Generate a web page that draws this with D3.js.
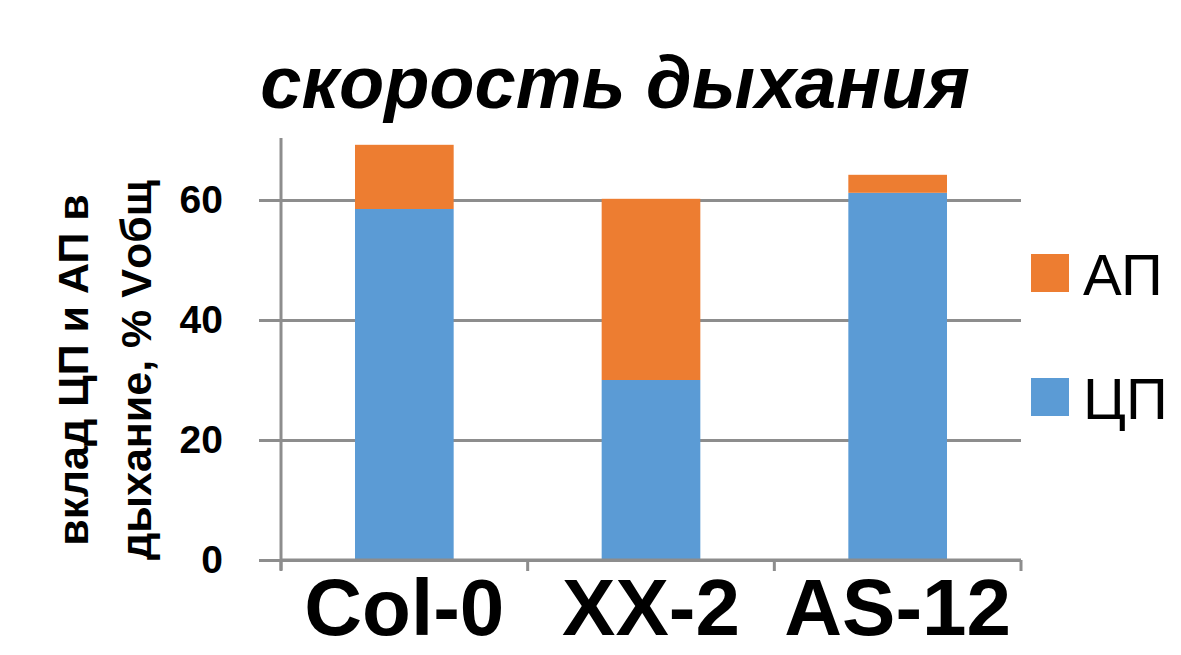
<!DOCTYPE html>
<html lang="ru">
<head>
    <meta charset="UTF-8">
    <title>скорость дыхания</title>
    <style>
        body{
            margin: 0;
            background: #fff;
        }
        text{
            font-family: "Liberation Sans", Arial, sans-serif;
        }
    </style>
</head>
<body>
    <div id="chart"></div>
    <script src="https://cdn.jsdelivr.net/npm/d3@7"></script>
    <script>
        var categories = ["Col-0", "XX-2", "AS-12"];
        var cpValues = [58.5, 30.0, 61.2];   // ЦП
        var apValues = [10.7, 30.2, 3.0];    // АП
        var seriesNames = ["ЦП", "АП"];
        var yTicks = [0, 20, 40, 60];

        var colors = {"ЦП": "#5b9bd5", "АП": "#ed7d31"};
        var gridColor = "#8d8d8d";

        var W = 1181, H = 655;
        var margin = {top: 140, right: 160, bottom: 95, left: 281},
            width = W - margin.left - margin.right,
            height = H - margin.top - margin.bottom;

        var svg = d3.select("#chart").append("svg")
            .attr("width", W)
            .attr("height", H);

        var rows = categories.map(function(c, i){
            return {cat: c, "ЦП": cpValues[i], "АП": apValues[i]};
        });
        var stacked = d3.stack().keys(seriesNames)(rows);

        var x = d3.scaleBand()
            .domain(categories)
            .range([0, width])
            .paddingInner(0.6)
            .paddingOuter(0.3);

        var y = d3.scaleLinear()
            .domain([0, 70])
            .range([height, 0]);

        var g = svg.append("g")
            .attr("transform", "translate(" + margin.left + "," + margin.top + ")");

        // gridlines + tick labels (grid sticks out 22px left of the axis)
        var gridG = g.append("g")
            .attr("transform", "translate(-22,0)")
            .call(d3.axisLeft(y)
                .tickValues(yTicks)
                .tickSize(-(width + 22))
                .tickPadding(36)
                .tickFormat(d3.format("d")));
        gridG.select(".domain").remove();
        gridG.selectAll("line")
            .attr("stroke", gridColor)
            .attr("stroke-width", 3);
        gridG.selectAll("text")
            .attr("fill", "#000")
            .style("font-size", "39px")
            .style("font-weight", "bold");

        // bars
        g.append("g").selectAll(".layer")
            .data(stacked)
            .enter()
            .append("g")
            .attr("fill", function(d){ return colors[d.key]; })
            .selectAll("rect")
            .data(function(d){ return d; })
            .enter()
            .append("rect")
            .attr("x", function(d){ return x(d.data.cat); })
            .attr("y", function(d){ return y(d[1]); })
            .attr("width", x.bandwidth())
            .attr("height", function(d){ return y(d[0]) - y(d[1]); });

        // y axis line
        g.append("line")
            .attr("x1", 0).attr("x2", 0)
            .attr("y1", -2).attr("y2", height + 10)
            .attr("stroke", gridColor)
            .attr("stroke-width", 3);

        // x axis line + boundary ticks
        g.append("line")
            .attr("x1", 0).attr("x2", width)
            .attr("y1", height).attr("y2", height)
            .attr("stroke", gridColor)
            .attr("stroke-width", 3);
        var bounds = categories.map(function(c){ return x(c) - x.step() * x.paddingInner() / 2; });
        bounds.push(width);
        g.append("g").selectAll("line.bt")
            .data(bounds)
            .enter()
            .append("line")
            .attr("x1", function(d){ return d; })
            .attr("x2", function(d){ return d; })
            .attr("y1", height)
            .attr("y2", height + 11)
            .attr("stroke", gridColor)
            .attr("stroke-width", 3);

        // category labels
        g.append("g").selectAll("text.cat")
            .data(categories)
            .enter()
            .append("text")
            .attr("x", function(d){ return x(d) + x.bandwidth() / 2; })
            .attr("y", height + 75)
            .attr("text-anchor", "middle")
            .style("font-size", "80px")
            .style("font-weight", "bold")
            .text(function(d){ return d; });

        // title
        svg.append("text")
            .attr("x", 615)
            .attr("y", 108)
            .attr("text-anchor", "middle")
            .style("font-size", "74px")
            .style("font-weight", "bold")
            .style("font-style", "italic")
            .text("скорость дыхания");

        // y axis title, two lines
        var yTitle = svg.append("text")
            .attr("transform", "translate(0,370) rotate(-90)")
            .attr("text-anchor", "middle")
            .style("font-size", "43px")
            .style("font-weight", "bold");
        yTitle.append("tspan").attr("x", 0).attr("y", 88).text("вклад  ЦП и АП в");
        yTitle.append("tspan").attr("x", 0).attr("y", 151).text("дыхание, % Vобщ");

        // legend (АП on top)
        var legend = svg.append("g").selectAll("g.leg")
            .data(seriesNames.slice().reverse())
            .enter()
            .append("g")
            .attr("transform", function(d, i){ return "translate(1031," + (254 + i * 124) + ")"; });
        legend.append("rect")
            .attr("width", 38)
            .attr("height", 38)
            .attr("fill", function(d){ return colors[d]; });
        legend.append("text")
            .attr("x", 52)
            .attr("y", 41)
            .style("font-size", "58px")
            .text(function(d){ return d; });
    </script>
</body>
</html>
